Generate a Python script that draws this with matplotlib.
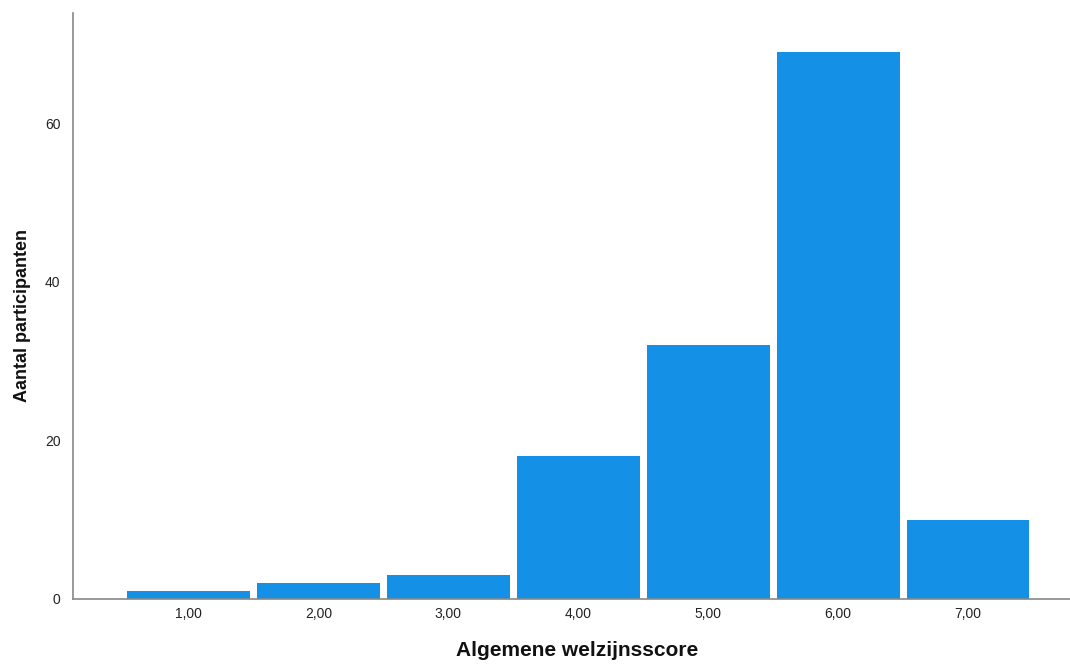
import numpy as np
import matplotlib
matplotlib.use('Agg')
import matplotlib.pyplot as plt

# scores and number of participants per score
scores = [1, 2, 3, 4, 5, 6, 7]
tick_labels = ['1,00', '2,00', '3,00', '4,00', '5,00', '6,00', '7,00']
counts = [1, 2, 3, 18, 32, 69, 10]
y_ticks = [0, 20, 40, 60]

plt.rcParams['font.family'] = ['Liberation Sans', 'DejaVu Sans']

fig = plt.figure(figsize=(10.70, 6.64), dpi=100)
ax = fig.add_axes([73 / 1070, 65 / 664, 1 - 73 / 1070, (599 - 13) / 664])

ax.bar(scores, counts, width=0.946, color='#1490e6', edgecolor='none')

ax.set_xlim(0.111, 7.785)
ax.set_ylim(0, 73.9)
ax.set_xticks(scores)
ax.set_xticklabels(tick_labels)
ax.set_yticks(y_ticks)
ax.tick_params(axis='x', length=0, labelsize=10, colors='#222222', pad=6)
ax.tick_params(axis='y', length=0, labelsize=10, colors='#222222', pad=9)

for side in ['top', 'right']:
    ax.spines[side].set_visible(False)
for side in ['left', 'bottom']:
    ax.spines[side].set_color('#888888')
    ax.spines[side].set_linewidth(1.2)

ax.set_xlabel('Algemene welzijnsscore', fontsize=15, fontweight='bold', color='#111111')
ax.set_ylabel('Aantal participanten', fontsize=13, fontweight='bold', color='#111111')
ax.xaxis.set_label_coords(0.5055, -0.088, transform=ax.transAxes)
ax.yaxis.set_label_coords(-0.051, 0.483, transform=ax.transAxes)
ax.xaxis.label.set_va('center')
ax.yaxis.label.set_va('center')

fig.savefig('out.png', dpi=100)
